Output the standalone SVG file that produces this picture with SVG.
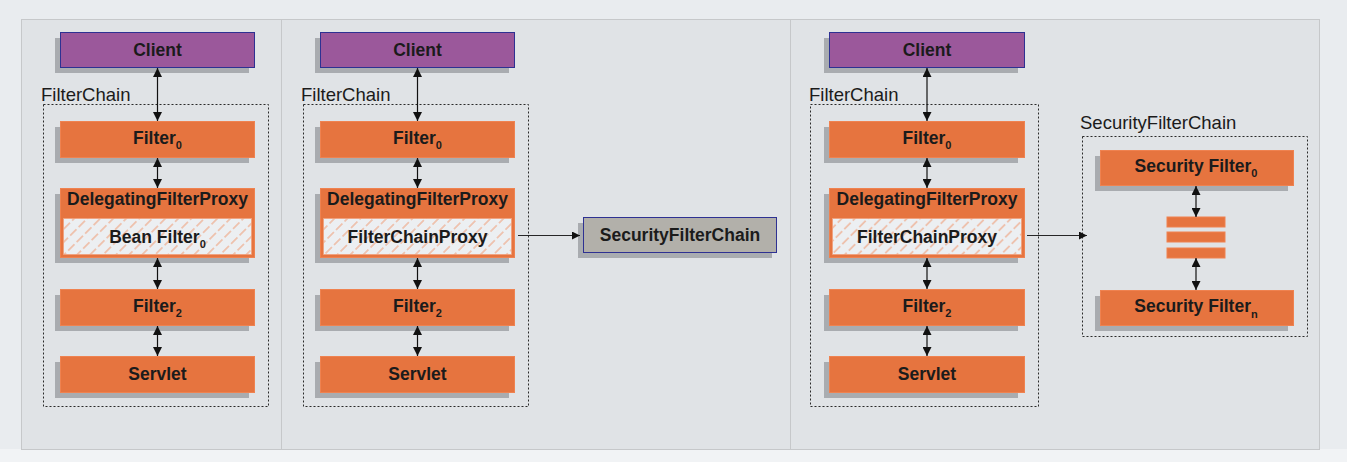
<svg xmlns="http://www.w3.org/2000/svg" width="1347" height="462" viewBox="0 0 1347 462">
<style>
text{font-family:"Liberation Sans",Arial,sans-serif;fill:#1b1b1b}
.b{font-weight:bold;font-size:17.5px}
.lbl{font-size:18.5px}
.sub{font-size:11px}
.sh{fill:#a9acb0}
.cl{fill:#9b589b;stroke:#2e3192;stroke-width:1}
.or{fill:#e6743f;stroke:#ef8250;stroke-width:1}
.gr{fill:#b2b0aa;stroke:#2e3192;stroke-width:1}
.dot{fill:none;stroke:#2a2a2a;stroke-width:1;stroke-dasharray:2 2}
.con{stroke:#111;stroke-width:1.2;fill:none}
.one{stroke:#111;stroke-width:0.9;fill:none}
.hb{fill:url(#hatch);stroke:#f0a07c;stroke-width:0.8}
</style>
<defs>
<marker id="ah" viewBox="0 0 10 10" refX="10" refY="5" markerWidth="9" markerHeight="9" markerUnits="userSpaceOnUse" orient="auto-start-reverse">
<path d="M0,0 L10,5 L0,10 z" fill="#111"/>
</marker>
<marker id="ah2" viewBox="0 0 10 10" refX="10" refY="5" markerWidth="10" markerHeight="8" markerUnits="userSpaceOnUse" orient="auto">
<path d="M0,0 L10,5 L0,10 z" fill="#111"/>
</marker>
<pattern id="hatch" patternUnits="userSpaceOnUse" width="9.2" height="12" patternTransform="rotate(45)">
<rect width="9.2" height="12" fill="#eceff2"/>
<line x1="4.6" y1="0" x2="4.6" y2="12" stroke="#ef8f62" stroke-width="0.9" stroke-dasharray="9 3"/>
</pattern>
</defs>
<rect x="0" y="0" width="1347" height="462" fill="#e9ecef"/>
<rect x="0" y="449" width="1347" height="13" fill="#f1f3f5"/>
<g id="panels">
<rect x="21.5" y="19.5" width="1298" height="430" fill="#e0e3e6" stroke="#c6c8ca"/>
<line x1="281.5" y1="20" x2="281.5" y2="449" stroke="#c6c8ca"/>
<line x1="790.5" y1="20" x2="790.5" y2="449" stroke="#c6c8ca"/>
</g>

<!-- Panel 1 -->
<g id="p1-chain"><text class="lbl" x="41" y="101">FilterChain</text><rect class="dot" x="43.5" y="104.5" width="225" height="302"/></g>
<g id="p1-client"><rect class="sh" x="55" y="38" width="194" height="35"/><rect class="cl" x="60.5" y="32.5" width="194" height="35"/><text class="b" x="157.5" y="56" text-anchor="middle">Client</text></g>
<g id="p1-filter0"><rect class="sh" x="55" y="127" width="194" height="36"/><rect class="or" x="60.5" y="121.5" width="194" height="36"/><text class="b" x="157.5" y="144" text-anchor="middle">Filter<tspan class="sub" dy="5">0</tspan></text></g>
<g id="p1-dfp"><rect class="sh" x="55" y="194" width="194" height="69"/><rect class="or" x="60.5" y="188.5" width="194" height="69"/><text class="b" x="157.5" y="205" text-anchor="middle">DelegatingFilterProxy</text><rect class="hb" x="63.5" y="218.5" width="188" height="36"/><text class="b" x="157.5" y="243" text-anchor="middle">Bean Filter<tspan class="sub" dy="5">0</tspan></text></g>
<g id="p1-filter2"><rect class="sh" x="55" y="295" width="194" height="36"/><rect class="or" x="60.5" y="289.5" width="194" height="36"/><text class="b" x="157.5" y="312" text-anchor="middle">Filter<tspan class="sub" dy="5">2</tspan></text></g>
<g id="p1-servlet"><rect class="sh" x="55" y="362" width="194" height="36"/><rect class="or" x="60.5" y="356.5" width="194" height="36"/><text class="b" x="157.5" y="380" text-anchor="middle">Servlet</text></g>

<!-- Panel 2 -->
<g id="p2-chain"><text class="lbl" x="301" y="101">FilterChain</text><rect class="dot" x="303.5" y="104.5" width="225" height="302"/></g>
<g id="p2-client"><rect class="sh" x="315" y="38" width="194" height="35"/><rect class="cl" x="320.5" y="32.5" width="194" height="35"/><text class="b" x="417.5" y="56" text-anchor="middle">Client</text></g>
<g id="p2-filter0"><rect class="sh" x="315" y="127" width="194" height="36"/><rect class="or" x="320.5" y="121.5" width="194" height="36"/><text class="b" x="417.5" y="144" text-anchor="middle">Filter<tspan class="sub" dy="5">0</tspan></text></g>
<g id="p2-dfp"><rect class="sh" x="315" y="194" width="194" height="69"/><rect class="or" x="320.5" y="188.5" width="194" height="69"/><text class="b" x="417.5" y="205" text-anchor="middle">DelegatingFilterProxy</text><rect class="hb" x="323.5" y="218.5" width="188" height="36"/><text class="b" x="417.5" y="243" text-anchor="middle">FilterChainProxy</text></g>
<g id="p2-filter2"><rect class="sh" x="315" y="295" width="194" height="36"/><rect class="or" x="320.5" y="289.5" width="194" height="36"/><text class="b" x="417.5" y="312" text-anchor="middle">Filter<tspan class="sub" dy="5">2</tspan></text></g>
<g id="p2-servlet"><rect class="sh" x="315" y="362" width="194" height="36"/><rect class="or" x="320.5" y="356.5" width="194" height="36"/><text class="b" x="417.5" y="380" text-anchor="middle">Servlet</text></g>
<g id="p2-sfc"><rect class="sh" x="578" y="223" width="194" height="35"/><rect class="gr" x="583.5" y="217.5" width="193" height="35"/><text class="b" x="680" y="241" text-anchor="middle">SecurityFilterChain</text></g>

<!-- Panel 3 -->
<g id="p3-chain"><text class="lbl" x="809" y="101">FilterChain</text><rect class="dot" x="810.5" y="104.5" width="228" height="302"/></g>
<g id="p3-client"><rect class="sh" x="824" y="38" width="194" height="35"/><rect class="cl" x="829.5" y="32.5" width="195" height="35"/><text class="b" x="927" y="56" text-anchor="middle">Client</text></g>
<g id="p3-filter0"><rect class="sh" x="824" y="127" width="194" height="36"/><rect class="or" x="829.5" y="121.5" width="195" height="36"/><text class="b" x="927" y="144" text-anchor="middle">Filter<tspan class="sub" dy="5">0</tspan></text></g>
<g id="p3-dfp"><rect class="sh" x="824" y="194" width="194" height="69"/><rect class="or" x="829.5" y="188.5" width="195" height="69"/><text class="b" x="927" y="205" text-anchor="middle">DelegatingFilterProxy</text><rect class="hb" x="832.5" y="218.5" width="189" height="36"/><text class="b" x="927" y="243" text-anchor="middle">FilterChainProxy</text></g>
<g id="p3-filter2"><rect class="sh" x="824" y="295" width="194" height="36"/><rect class="or" x="829.5" y="289.5" width="195" height="36"/><text class="b" x="927" y="312" text-anchor="middle">Filter<tspan class="sub" dy="5">2</tspan></text></g>
<g id="p3-servlet"><rect class="sh" x="824" y="362" width="194" height="36"/><rect class="or" x="829.5" y="356.5" width="195" height="36"/><text class="b" x="927" y="380" text-anchor="middle">Servlet</text></g>
<g id="p3-sfc"><text class="lbl" x="1080" y="129">SecurityFilterChain</text><rect class="dot" x="1082.5" y="136.5" width="225" height="200"/></g>
<g id="p3-sf0"><rect class="sh" x="1095" y="156" width="193" height="35"/><rect class="or" x="1100.5" y="150.5" width="193" height="35"/><text class="b" x="1196" y="172" text-anchor="middle">Security Filter<tspan class="sub" dy="5">0</tspan></text></g>
<g id="p3-bars"><rect class="or" x="1167" y="217" width="58" height="10" stroke="none"/><rect class="or" x="1167" y="232" width="58" height="10" stroke="none"/><rect class="or" x="1167" y="248" width="58" height="10" stroke="none"/></g>
<g id="p3-sfn"><rect class="sh" x="1095" y="296" width="193" height="35"/><rect class="or" x="1100.5" y="290.5" width="193" height="35"/><text class="b" x="1196" y="312" text-anchor="middle">Security Filter<tspan class="sub" dy="6">n</tspan></text></g>

<g id="connectors">
<line class="con" x1="157.5" y1="68" x2="157.5" y2="121" marker-start="url(#ah)" marker-end="url(#ah)"/>
<line class="con" x1="157.5" y1="158" x2="157.5" y2="188" marker-start="url(#ah)" marker-end="url(#ah)"/>
<line class="con" x1="157.5" y1="258" x2="157.5" y2="289" marker-start="url(#ah)" marker-end="url(#ah)"/>
<line class="con" x1="157.5" y1="326" x2="157.5" y2="356" marker-start="url(#ah)" marker-end="url(#ah)"/>
<line class="con" x1="417.5" y1="68" x2="417.5" y2="121" marker-start="url(#ah)" marker-end="url(#ah)"/>
<line class="con" x1="417.5" y1="158" x2="417.5" y2="188" marker-start="url(#ah)" marker-end="url(#ah)"/>
<line class="con" x1="417.5" y1="258" x2="417.5" y2="289" marker-start="url(#ah)" marker-end="url(#ah)"/>
<line class="con" x1="417.5" y1="326" x2="417.5" y2="356" marker-start="url(#ah)" marker-end="url(#ah)"/>
<line class="one" x1="518" y1="235.5" x2="580" y2="235.5" marker-end="url(#ah2)"/>
<line class="con" x1="927" y1="68" x2="927" y2="121" marker-start="url(#ah)" marker-end="url(#ah)"/>
<line class="con" x1="927" y1="158" x2="927" y2="188" marker-start="url(#ah)" marker-end="url(#ah)"/>
<line class="con" x1="927" y1="258" x2="927" y2="289" marker-start="url(#ah)" marker-end="url(#ah)"/>
<line class="con" x1="927" y1="326" x2="927" y2="356" marker-start="url(#ah)" marker-end="url(#ah)"/>
<line class="one" x1="1027" y1="235.5" x2="1087" y2="235.5" marker-end="url(#ah2)"/>
<line class="con" x1="1196" y1="186" x2="1196" y2="217" marker-start="url(#ah)" marker-end="url(#ah)"/>
<line class="con" x1="1196" y1="258" x2="1196" y2="290" marker-start="url(#ah)" marker-end="url(#ah)"/>
</g>
</svg>
